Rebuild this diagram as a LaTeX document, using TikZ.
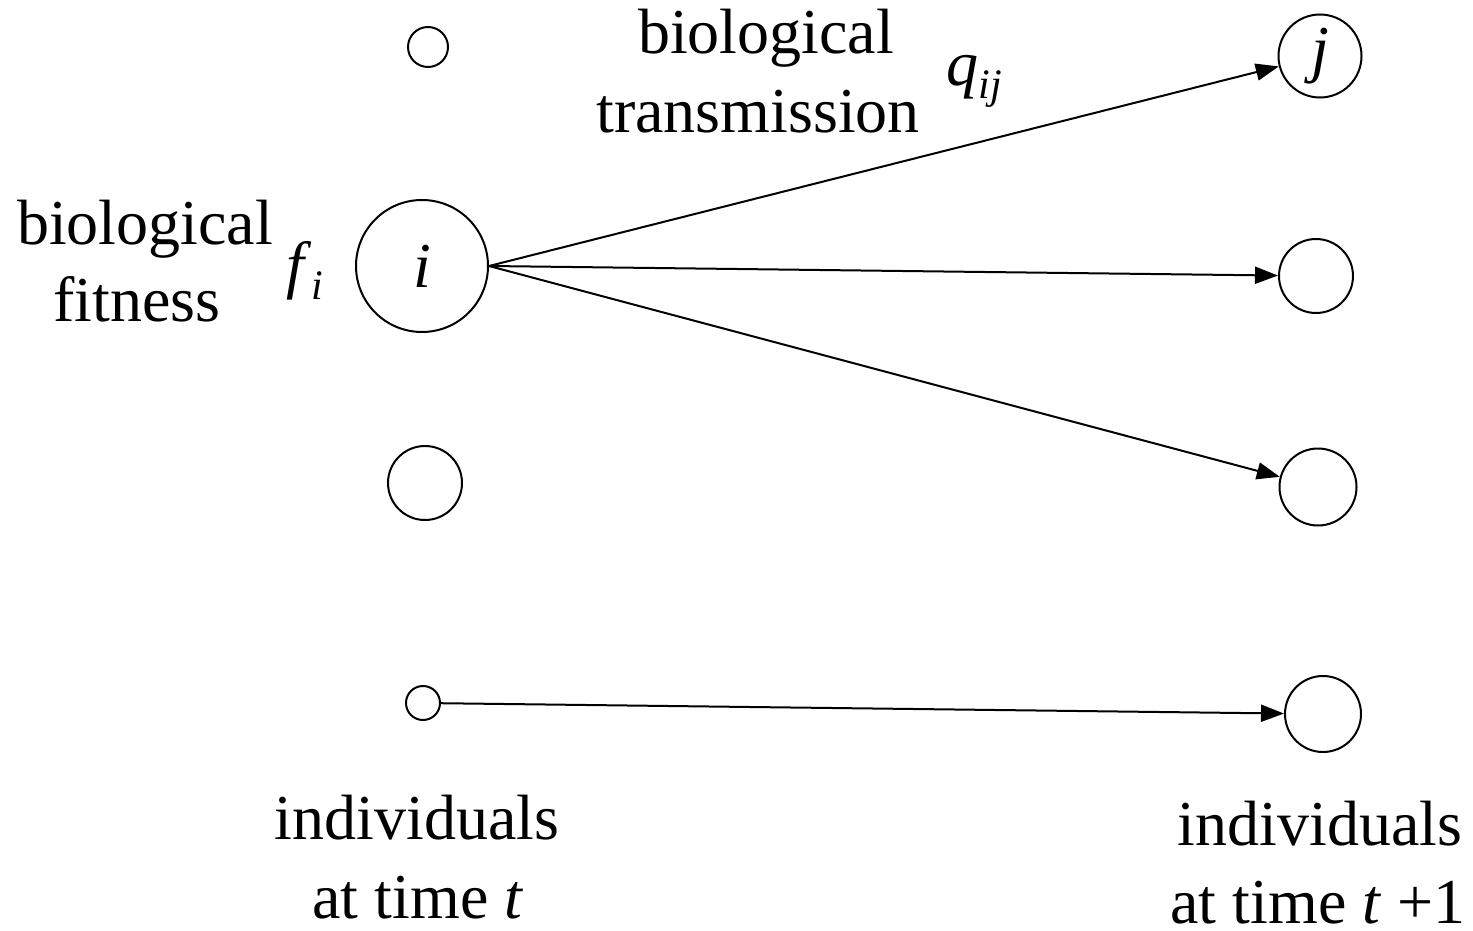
\documentclass[tikz,border=0pt]{standalone}
\usepackage{fontspec}
\setmainfont{Liberation Serif}
\usetikzlibrary{arrows.meta}
\newcommand\bigtxt{\fontsize{64}{79}\selectfont}
\newcommand\sbs[1]{\raisebox{-13pt}{\fontsize{42}{42}\selectfont\textit{#1}}}
\begin{document}
\begin{tikzpicture}[x=1pt,y=-1pt,
  indiv/.style={circle,draw,line width=2pt,inner sep=0pt,font=\bigtxt},
  lbl/.style={anchor=base,inner sep=0pt,font=\bigtxt},
  arr/.style={line width=2pt,-{Triangle[length=23pt,width=17pt]}}]
\useasboundingbox (0,0) rectangle (1473,931);
% left column
\node[indiv,minimum size=40pt] (s1) at (428,47) {};
\node[indiv,minimum size=132pt] (i) at (422,266) {\textit{i}};
\node[indiv,minimum size=74pt] (s3) at (425,483) {};
\node[indiv,minimum size=34pt] (s4) at (423,703) {};
% right column
\node[indiv,minimum size=83pt] (j) at (1320,56) {\textit{j}};
\node[indiv,minimum size=74pt] (r2) at (1316,276) {};
\node[indiv,minimum size=77pt] (r3) at (1318,487) {};
\node[indiv,minimum size=76pt] (r4) at (1323,714) {};
% arrows
\draw[arr] (i.east) -- (j);
\draw[arr] (i.east) -- (r2);
\draw[arr] (i.east) -- (r3);
\draw[arr] (s4) -- (r4);
% labels
\node[lbl] (bt1) at (766,54) {biological};
\node[lbl] (bt2) at (758,133) {transmission};
\node[lbl] (bf1) at (145,244) {biological};
\node[lbl] (bf2) at (137,321) {fitness};
\node[lbl] (fi) at (305,286) {\textit{f}\sbs{i}};
\node[lbl] (qij) at (974,86) {\textit{q}\sbs{ij}};
\node[lbl] (it1) at (417,839) {individuals};
\node[lbl] (it2) at (418,918) {at time \textit{t}};
\node[lbl] (iu1) at (1320,845) {individuals};
\node[lbl] (iu2) at (1318,923) {at time \textit{t} +1};
\end{tikzpicture}
\end{document}
